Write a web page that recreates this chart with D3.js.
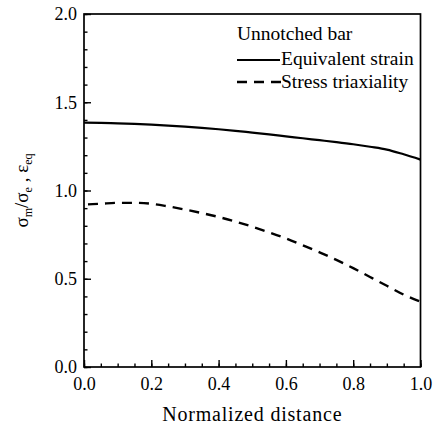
<!DOCTYPE html>
<html><head><meta charset="utf-8">
<script src="https://cdn.jsdelivr.net/npm/d3@7"></script>
</head><body style="margin:0;background:#fff"><svg id="c" width="437" height="428" font-family="Liberation Serif"></svg>
<script>
const xs = [0,0.05,0.1,0.15,0.2,0.25,0.3,0.35,0.4,0.45,0.5,0.55,0.6,0.65,0.7,0.75,0.8,0.85,0.9,0.95,1.0];
const equivalentStrain = [1.385,1.383,1.38,1.377,1.373,1.368,1.362,1.355,1.347,1.338,1.328,1.318,1.307,1.296,1.285,1.274,1.262,1.248,1.232,1.205,1.175];
const stressTriaxiality = [0.92,0.925,0.93,0.93,0.925,0.91,0.892,0.872,0.85,0.824,0.795,0.763,0.729,0.69,0.65,0.607,0.56,0.51,0.46,0.41,0.37];
const xTicks = [0,0.2,0.4,0.6,0.8,1.0];
const yTicks = [0,0.5,1.0,1.5,2.0];
const legendTitle = "Unnotched bar";
const seriesNames = ["Equivalent strain","Stress triaxiality"];

const FONT = "Liberation Serif";
const svg = d3.select("#c");
const L=84,R=420.5,T=14,B=367;
const x = d3.scaleLinear().domain([0,1]).range([L,R]);
const y = d3.scaleLinear().domain([0,2]).range([B,T]);

svg.append("rect").attr("x",L).attr("y",T).attr("width",R-L).attr("height",B-T)
  .attr("fill","none").attr("stroke","#000").attr("stroke-width",1.7);

const xMinor = d3.range(0,1.0001,0.05);
const gx = svg.append("g").attr("transform",`translate(0,${B})`);
gx.call(d3.axisBottom(x).tickValues(xMinor).tickSize(-3.5).tickFormat(""))
  .call(g=>g.select(".domain").remove());
gx.append("g").call(d3.axisBottom(x).tickValues(xTicks).tickSize(-7).tickFormat(d3.format(".1f")).tickPadding(0))
  .call(g=>g.select(".domain").remove())
  .call(g=>g.selectAll("text").attr("y",23).attr("dy","0").attr("font-size",18).attr("font-family",FONT).attr("fill","#000"));
gx.selectAll("line").attr("stroke","#000").attr("stroke-width",1.4);

const yMinor = d3.range(0,2.0001,0.1);
const gy = svg.append("g").attr("transform",`translate(${L},0)`);
gy.call(d3.axisLeft(y).tickValues(yMinor).tickSize(-3.5).tickFormat(""))
  .call(g=>g.select(".domain").remove());
gy.append("g").call(d3.axisLeft(y).tickValues(yTicks).tickSize(-7).tickFormat(d3.format(".1f")).tickPadding(0))
  .call(g=>g.select(".domain").remove())
  .call(g=>g.selectAll("text").attr("x",-7).attr("dy","0.33em").attr("font-size",18).attr("font-family",FONT).attr("fill","#000"));
gy.selectAll("line").attr("stroke","#000").attr("stroke-width",1.4);
svg.selectAll("g").attr("font-family",FONT);

const line = d3.line().x((d,i)=>x(xs[i])).y(d=>y(d)).curve(d3.curveMonotoneX);
svg.append("path").datum(equivalentStrain).attr("d",line).attr("fill","none").attr("stroke","#000").attr("stroke-width",2.2);
svg.append("path").datum(stressTriaxiality).attr("d",line).attr("fill","none").attr("stroke","#000").attr("stroke-width",2.4).attr("stroke-dasharray","10,7").attr("stroke-dashoffset",-4);

const txt = (xx,yy,size,s)=>svg.append("text").attr("x",xx).attr("y",yy).attr("font-size",size).attr("font-family",FONT).attr("fill","#000").text(s);
txt(237,40,19.5,legendTitle);
svg.append("line").attr("x1",237).attr("x2",280).attr("y1",60).attr("y2",60).attr("stroke","#000").attr("stroke-width",1.8);
txt(281,65,19.5,seriesNames[0]);
svg.append("line").attr("x1",237).attr("x2",281).attr("y1",82).attr("y2",82).attr("stroke","#000").attr("stroke-width",2.4).attr("stroke-dasharray","10,7");
txt(281,88,19.5,seriesNames[1]);

txt((L+R)/2,421,20,"Normalized distance").attr("text-anchor","middle").attr("letter-spacing",0.8);
const yl = svg.append("text").attr("transform",`translate(28,${(T+B)/2}) rotate(-90)`).attr("text-anchor","middle").attr("font-size",19).attr("font-family",FONT).attr("fill","#000");
yl.append("tspan").text("σ");
yl.append("tspan").attr("font-size",12).attr("dy",4).text("m");
yl.append("tspan").attr("dy",-4).text("/σ");
yl.append("tspan").attr("font-size",12).attr("dy",4).text("e");
yl.append("tspan").attr("dy",-4).text(" , ε");
yl.append("tspan").attr("font-size",12).attr("dy",4).text("eq");
</script></body></html>
